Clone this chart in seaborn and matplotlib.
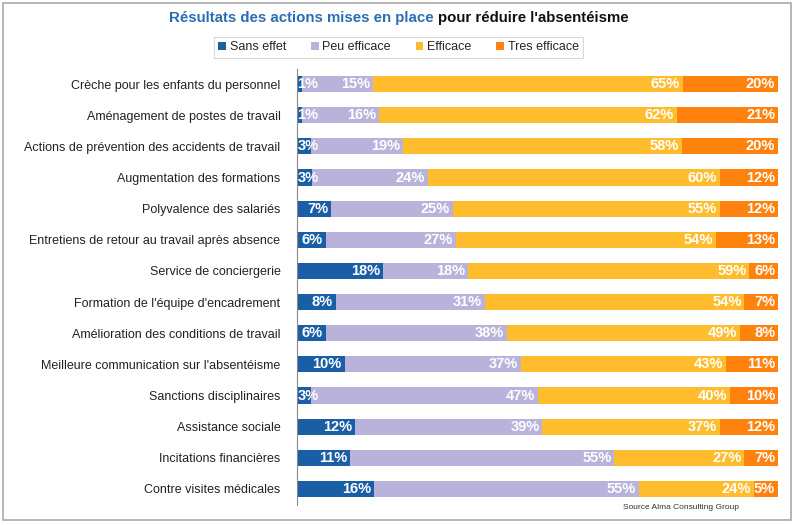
import numpy as np
import pandas as pd
import matplotlib
matplotlib.use("Agg")
import matplotlib.pyplot as plt
import seaborn as sns
from matplotlib.patches import Rectangle, Patch

# ── Données ─────────────────────────────────────────────────────────────────
actions = [
    "Crèche pour les enfants du personnel",
    "Aménagement de postes de travail",
    "Actions de prévention des accidents de travail",
    "Augmentation des formations",
    "Polyvalence des salariés",
    "Entretiens de retour au travail après absence",
    "Service de conciergerie",
    "Formation de l'équipe d'encadrement",
    "Amélioration des conditions de travail",
    "Meilleure communication sur l'absentéisme",
    "Sanctions disciplinaires",
    "Assistance sociale",
    "Incitations financières",
    "Contre visites médicales",
]
sans_effet    = [1, 1, 3, 3, 7, 6, 18, 8, 6, 10, 3, 12, 11, 16]
peu_efficace  = [15, 16, 19, 24, 25, 27, 18, 31, 38, 37, 47, 39, 55, 55]
efficace      = [65, 62, 58, 60, 55, 54, 59, 54, 49, 43, 40, 37, 27, 24]
tres_efficace = [20, 21, 20, 12, 12, 13, 6, 7, 8, 11, 10, 12, 7, 5]

series = ["Sans effet", "Peu efficace", "Efficace", "Tres efficace"]
couleurs = ["#1A5EA6", "#B9B3DB", "#FFBC2C", "#FF820F"]

df = pd.DataFrame({
    "Action": actions,
    "Sans effet": sans_effet,
    "Peu efficace": peu_efficace,
    "Efficace": efficace,
    "Tres efficace": tres_efficace,
})
# barres 100 % empilées (comme Excel)
total = df[series].sum(axis=1)
cum = df[series].div(total, axis=0).mul(100).cumsum(axis=1)

# ── Figure ──────────────────────────────────────────────────────────────────
sns.set_theme(style="white")
plt.rcParams["font.family"] = ["Liberation Sans", "DejaVu Sans"]

fig = plt.figure(figsize=(7.97, 5.25), dpi=100)
ax = fig.add_axes([0.3727, 0.039, 0.6035, 0.8305])

# empilement : on dessine les cumuls du plus grand au plus petit
for s, c in reversed(list(zip(series, couleurs))):
    sns.barplot(x=cum[s], y=df["Action"], color=c, orient="h",
                width=0.52, ax=ax, saturation=1, linewidth=0)

# étiquettes en fin de segment (petits segments : calées à gauche)
for i in range(len(actions)):
    debut = 0.0
    for s in series:
        fin = cum.loc[i, s]
        if df.loc[i, s] < 5:
            ax.text(debut + 0.1, i, f"{df.loc[i, s]}%", ha="left", va="center",
                    color="white", fontsize=10.5, fontweight="bold")
        else:
            ax.text(fin - 0.6, i, f"{df.loc[i, s]}%", ha="right", va="center",
                    color="white", fontsize=10.5, fontweight="bold")
        debut = fin

ax.set_xlim(0, 100)
ax.set_ylim(len(actions) - 0.5, -0.5)
ax.set_xlabel("")
ax.set_ylabel("")
ax.set_xticks([])
for sp in ["top", "right", "bottom"]:
    ax.spines[sp].set_visible(False)
ax.spines["left"].set_color("#888888")
ax.spines["left"].set_linewidth(0.8)
ax.tick_params(axis="y", which="major", length=0, labelsize=9, pad=12,
               labelcolor="#222222")
ax.set_yticks(np.arange(-0.5, len(actions)), minor=True)
ax.tick_params(axis="y", which="minor", length=4, color="#888888", width=0.8)

# titre bicolore
t1 = fig.text(0.5, 0.965, "Résultats des actions mises en place ",
              ha="left", va="center", fontsize=10.8, fontweight="bold",
              color="#2A6DB5")
t2 = fig.text(0.5, 0.965, "pour réduire l'absentéisme",
              ha="left", va="center", fontsize=10.8, fontweight="bold",
              color="#111111")
fig.canvas.draw()
r = fig.canvas.get_renderer()
w1 = t1.get_window_extent(r).width / fig.bbox.width
w2 = t2.get_window_extent(r).width / fig.bbox.width
x0 = 0.5 - (w1 + w2) / 2
t1.set_x(x0)
t2.set_x(x0 + w1)

# légende
handles = [Patch(facecolor=c, edgecolor="none") for c in couleurs]
leg = fig.legend(handles, series, loc="center", bbox_to_anchor=(0.5, 0.91),
                 ncol=4, fontsize=9, frameon=True, fancybox=False,
                 handlelength=0.6, handleheight=0.6, handletextpad=0.3,
                 columnspacing=2.0, borderpad=0.35, borderaxespad=0)
leg.get_frame().set_edgecolor("#CCCCCC")
leg.get_frame().set_linewidth(0.8)

fig.text(0.855, 0.034, "Source Alma Consulting Group", fontsize=6,
         ha="center", va="center", color="#333333")

# cadre
fig.patches.append(Rectangle((0.004, 0.01), 0.988, 0.985, transform=fig.transFigure,
                             fill=False, edgecolor="#AAAAAA", linewidth=1.2))

fig.savefig("out.png", dpi=100)
